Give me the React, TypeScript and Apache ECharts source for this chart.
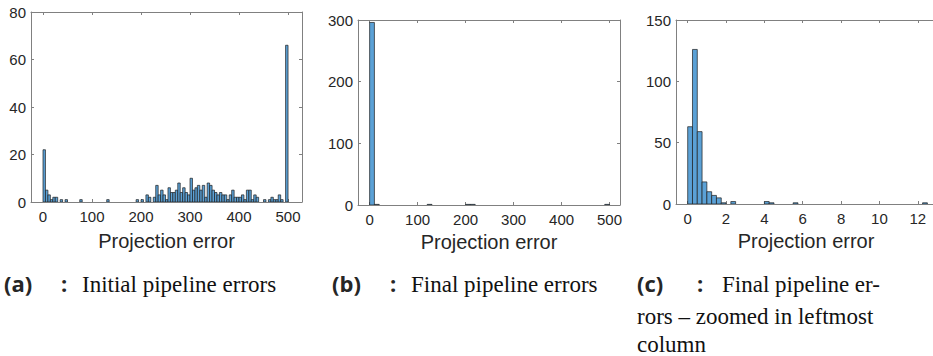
import React, { useEffect, useRef } from "react";
import * as echarts from "echarts";

// ---- data ----
// (a) initial pipeline: bins of width 5 starting at 0
const binWidthA = 5;
const countsA = [
  22, 5, 3, 1, 2, 2, 0, 1, 0, 1,
  0, 0, 0, 0, 0, 1, 0, 0, 0, 0,
  0, 0, 0, 0, 0, 0, 1, 0, 0, 0,
  0, 0, 0, 0, 0, 0, 0, 0, 1, 0,
  1, 0, 3, 2, 0, 2, 7, 3, 5, 3,
  1, 6, 4, 4, 5, 8, 4, 6, 4, 3,
  10, 5, 6, 7, 5, 7, 2, 8, 7, 5,
  4, 3, 4, 3, 3, 1, 3, 5, 2, 2,
  2, 3, 1, 5, 5, 1, 3, 2, 0, 0,
  1, 0, 1, 2, 1, 1, 3, 1, 0, 66,
];
// (b) final pipeline: bins of width 10 starting at 0
const binWidthB = 10;
const countsB = [
  296, 1, 0, 0, 0, 0, 0, 0, 0, 0,
  0, 0, 1, 0, 0, 0, 0, 0, 0, 0,
  1, 1, 0, 0, 0, 0, 0, 0, 0, 0,
  0, 0, 0, 0, 0, 0, 0, 0, 0, 0,
  0, 0, 0, 0, 0, 0, 0, 0, 0, 1,
];
// (c) zoom into first column: bins of width 0.25 starting at 0
const binWidthC = 0.25;
const countsC = [
  63, 126, 59, 18, 10, 7, 5, 1, 0, 2,
  0, 0, 0, 0, 0, 0, 2, 1, 0, 0,
  0, 0, 1, 0, 0, 0, 0, 0, 0, 0,
  0, 0, 0, 0, 0, 0, 0, 0, 0, 0,
  0, 0, 0, 0, 0, 0, 0, 0, 0, 1,
];

const xTicksA = [0, 100, 200, 300, 400, 500];
const xTicksB = [0, 100, 200, 300, 400, 500];
const xTicksC = [0, 2, 4, 6, 8, 10, 12];
const yTicksA = [0, 20, 40, 60, 80];
const yTicksB = [0, 100, 200, 300];
const yTicksC = [0, 50, 100, 150];
const xAxisTitle = "Projection error";
const captionTags = ["(a)", "(b)", "(c)"];
const captionA = "Initial pipeline errors";
const captionB = "Final pipeline errors";
const captionC = ["Final pipeline er-", "rors \u2013 zoomed in leftmost", "column"];

// ---- styles ----
const FILL = "#5ba1d6";
const EDGE = "#1e1e1e";
const AXIS = "#808080";
const TXT = "#262626";
const SANS = "Liberation Sans";
const TAG_FONT = "bold 22px 'Open Sans', 'Noto Sans', sans-serif";
const CAP_FONT = "23px 'Liberation Serif', 'DejaVu Serif', serif";

const toBins = (counts: number[], w: number) =>
  counts
    .map((c, i) => [i * w, (i + 1) * w, c])
    .filter((d) => d[2] > 0);

const renderBar = (_p: any, api: any) => {
  const x0 = api.value(0);
  const x1 = api.value(1);
  const c = api.value(2);
  const p0 = api.coord([x0, c]);
  const p1 = api.coord([x1, 0]);
  return {
    type: "rect",
    shape: { x: p0[0], y: p0[1], width: p1[0] - p0[0], height: p1[1] - p0[1] },
    style: { fill: FILL, stroke: EDGE, lineWidth: 0.7 },
  };
};

type Panel = {
  left: number; top: number; width: number; height: number;
  xmin: number; xmax: number; xticks: number[];
  yticks: number[]; nameGap: number;
};

const panels: Panel[] = [
  { left: 31, top: 12, width: 271, height: 190, xmin: -24.5, xmax: 528.5, xticks: xTicksA, yticks: yTicksA, nameGap: 29 },
  { left: 358, top: 20, width: 262, height: 185, xmin: -24.2, xmax: 521.8, xticks: xTicksB, yticks: yTicksB, nameGap: 26 },
  { left: 676, top: 20, width: 260, height: 184, xmin: -0.61, xmax: 12.95, xticks: xTicksC, yticks: yTicksC, nameGap: 27 },
];

export default function App() {
  const ref = useRef<HTMLDivElement>(null);
  useEffect(() => {
    if (!ref.current) return;
    const chart = echarts.init(ref.current, undefined, { renderer: "svg" });
    const grids = panels.map((p) => ({ left: p.left, top: p.top, width: p.width, height: p.height }));
    const xAxes: any[] = [];
    const yAxes: any[] = [];
    panels.forEach((p, i) => {
      xAxes.push({
        type: "value", gridIndex: i, position: "bottom", min: p.xmin, max: p.xmax,
        axisLine: { show: true, onZero: false, lineStyle: { color: AXIS, width: 1 } },
        axisTick: { show: true, inside: true, length: 3, customValues: p.xticks, lineStyle: { color: AXIS } },
        axisLabel: { show: true, customValues: p.xticks, color: TXT, fontSize: 15, fontFamily: SANS, margin: 7 },
        splitLine: { show: false },
        name: xAxisTitle, nameLocation: "middle", nameGap: p.nameGap,
        nameTextStyle: { color: TXT, fontSize: 20, fontFamily: SANS },
      });
      xAxes.push({
        type: "value", gridIndex: i, position: "top", min: p.xmin, max: p.xmax,
        axisLine: { show: true, onZero: false, lineStyle: { color: AXIS, width: 1 } },
        axisTick: { show: true, inside: true, length: 3, customValues: p.xticks, lineStyle: { color: AXIS } },
        axisLabel: { show: false },
        splitLine: { show: false },
      });
      const ymax = p.yticks[p.yticks.length - 1];
      const yint = p.yticks[1] - p.yticks[0];
      yAxes.push({
        type: "value", gridIndex: i, position: "left", min: 0, max: ymax, interval: yint,
        axisLine: { show: true, onZero: false, lineStyle: { color: AXIS, width: 1 } },
        axisTick: { show: true, inside: true, length: 3, lineStyle: { color: AXIS } },
        axisLabel: { show: true, color: TXT, fontSize: 15, fontFamily: SANS, margin: 5 },
        splitLine: { show: false },
      });
      yAxes.push({
        type: "value", gridIndex: i, position: "right", min: 0, max: ymax, interval: yint,
        axisLine: { show: true, onZero: false, lineStyle: { color: AXIS, width: 1 } },
        axisTick: { show: true, inside: true, length: 3, lineStyle: { color: AXIS } },
        axisLabel: { show: false },
        splitLine: { show: false },
      });
    });
    const binSets = [toBins(countsA, binWidthA), toBins(countsB, binWidthB), toBins(countsC, binWidthC)];
    const series = binSets.map((data, i) => ({
      type: "custom", xAxisIndex: 2 * i, yAxisIndex: 2 * i,
      renderItem: renderBar, data, encode: { x: [0, 1], y: 2 }, clip: true,
    }));

    const tagStyle = { font: TAG_FONT, fill: TXT, textVerticalAlign: "middle" };
    const capStyle = { font: CAP_FONT, fill: "#111", textVerticalAlign: "middle" };
    const graphic: any[] = [
      { type: "text", x: 4, y: 283, style: { ...tagStyle, text: captionTags[0] } },
      { type: "text", x: 61, y: 283, style: { ...tagStyle, text: ":" } },
      { type: "text", x: 82, y: 284, style: { ...capStyle, text: captionA } },
      { type: "text", x: 332, y: 283, style: { ...tagStyle, text: captionTags[1] } },
      { type: "text", x: 390, y: 283, style: { ...tagStyle, text: ":" } },
      { type: "text", x: 411, y: 284, style: { ...capStyle, text: captionB } },
      { type: "text", x: 637, y: 283, style: { ...tagStyle, text: captionTags[2] } },
      { type: "text", x: 697, y: 283, style: { ...tagStyle, text: ":" } },
      { type: "text", x: 722, y: 284, style: { ...capStyle, text: captionC[0] } },
      { type: "text", x: 637, y: 316, style: { ...capStyle, text: captionC[1] } },
      { type: "text", x: 637, y: 344, style: { ...capStyle, text: captionC[2] } },
    ];

    chart.setOption({
      animation: false,
      backgroundColor: "#ffffff",
      grid: grids,
      xAxis: xAxes,
      yAxis: yAxes,
      series,
      graphic,
    });
    return () => chart.dispose();
  }, []);

  return (
    <div style={{ position: "fixed", left: 0, top: 0, width: 933, height: 356, overflow: "hidden", background: "#fff" }}>
      <div ref={ref} style={{ width: 950, height: 356 }} />
    </div>
  );
}
